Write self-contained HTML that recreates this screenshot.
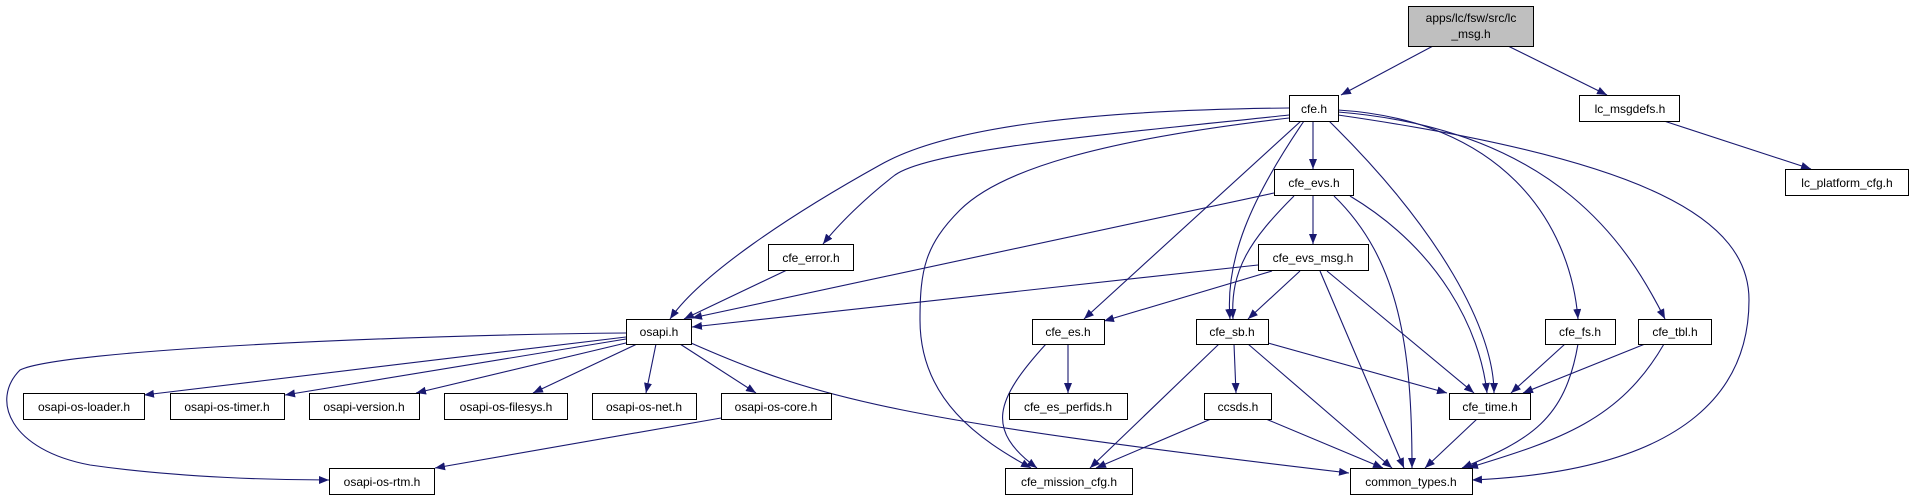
<!DOCTYPE html>
<html><head><meta charset="utf-8"><style>
html,body{margin:0;padding:0;background:#fff;}
svg{display:block;}
text{font-family:"Liberation Sans",sans-serif;font-size:12px;fill:#000;}
</style></head><body>
<svg width="1914" height="500" viewBox="0 0 1914 500" xmlns="http://www.w3.org/2000/svg">
<defs>
<marker id="a" viewBox="0 0 10 8" refX="10" refY="4" markerWidth="10" markerHeight="8" markerUnits="userSpaceOnUse" orient="auto">
<path d="M0,0 L10,4 L0,8 z" fill="#191970"/>
</marker>
</defs>
<g fill="none" stroke="#191970" stroke-width="1.1" marker-end="url(#a)">
<path d="M1433,46 L1341,95"/>
<path d="M1508,46 L1607,95"/>
<path d="M1664,121 L1811,169"/>
<path d="M1313,121 L1313,169"/>
<path d="M1289,115 C1100,135 930,150 895,175 C865,198 838,225 823,244"/>
<path d="M1289,108 C1100,110 950,125 880,165 C790,215 700,275 670,319"/>
<path d="M1289,118 C1100,140 1000,170 960,210 C925,245 920,270 920,320 C920,400 980,440 1031,468"/>
<path d="M1301,121 L1084,319"/>
<path d="M1304,121 C1250,200 1225,260 1230,319"/>
<path d="M1329,121 C1440,230 1494,330 1494,393"/>
<path d="M1338,110 C1500,120 1570,220 1578,319"/>
<path d="M1338,112 C1560,130 1630,250 1665,319"/>
<path d="M1338,115 C1650,160 1749,220 1749,300 C1749,380 1700,470 1472,480"/>
<path d="M1274,193 L692,318"/>
<path d="M1258,265 L692,327"/>
<path d="M787,270 L684,319"/>
<path d="M1313,195 L1313,244"/>
<path d="M1294,196 C1250,240 1230,270 1233,319"/>
<path d="M1334,196 C1400,260 1412,350 1412,468"/>
<path d="M1350,196 C1440,250 1480,330 1487,393"/>
<path d="M1272,271 L1104,321"/>
<path d="M1300,271 L1248,319"/>
<path d="M1320,271 L1404,468"/>
<path d="M1327,271 L1474,393"/>
<path d="M1068,344 L1068,393"/>
<path d="M1046,344 C995,400 985,430 1037,468"/>
<path d="M1234,344 L1236,393"/>
<path d="M1219,344 L1090,468"/>
<path d="M1248,344 L1392,468"/>
<path d="M1268,343 L1447,393"/>
<path d="M1565,344 L1511,393"/>
<path d="M1578,344 C1565,420 1530,440 1462,468"/>
<path d="M1645,344 L1523,393"/>
<path d="M1664,344 C1620,420 1560,440 1468,468"/>
<path d="M1211,419 L1096,468"/>
<path d="M1266,419 L1383,468"/>
<path d="M1477,419 L1425,468"/>
<path d="M626,337 L144,395"/>
<path d="M626,339 L285,395"/>
<path d="M630,342 L416,393"/>
<path d="M637,344 L533,393"/>
<path d="M656,344 L646,393"/>
<path d="M680,344 L756,393"/>
<path d="M691,343 C820,400 900,420 1349,473"/>
<path d="M626,333 C400,335 60,350 20,370 C-10,400 10,450 90,465 C180,478 280,480 329,480"/>
<path d="M721,418 L435,468"/>
</g>
<g stroke="#000" stroke-width="1">
<rect x="1408.5" y="6.5" width="125" height="40" fill="#bfbfbf"/>
<rect x="1289.5" y="95.5" width="49" height="26" fill="#fff"/>
<rect x="1579.5" y="95.5" width="100" height="26" fill="#fff"/>
<rect x="1785.5" y="169.5" width="123" height="26" fill="#fff"/>
<rect x="1274.5" y="169.5" width="79" height="26" fill="#fff"/>
<rect x="768.5" y="244.5" width="85" height="26" fill="#fff"/>
<rect x="1258.5" y="244.5" width="110" height="26" fill="#fff"/>
<rect x="626.5" y="319.5" width="65" height="25" fill="#fff"/>
<rect x="1032.5" y="319.5" width="72" height="25" fill="#fff"/>
<rect x="1196.5" y="319.5" width="72" height="25" fill="#fff"/>
<rect x="1545.5" y="319.5" width="70" height="25" fill="#fff"/>
<rect x="1638.5" y="319.5" width="73" height="25" fill="#fff"/>
<rect x="23.5" y="393.5" width="121" height="26" fill="#fff"/>
<rect x="170.5" y="393.5" width="114" height="26" fill="#fff"/>
<rect x="309.5" y="393.5" width="110" height="26" fill="#fff"/>
<rect x="444.5" y="393.5" width="123" height="26" fill="#fff"/>
<rect x="592.5" y="393.5" width="104" height="26" fill="#fff"/>
<rect x="721.5" y="393.5" width="110" height="26" fill="#fff"/>
<rect x="1009.5" y="393.5" width="118" height="26" fill="#fff"/>
<rect x="1204.5" y="393.5" width="67" height="26" fill="#fff"/>
<rect x="1449.5" y="393.5" width="81" height="26" fill="#fff"/>
<rect x="329.5" y="468.5" width="105" height="26" fill="#fff"/>
<rect x="1005.5" y="468.5" width="127" height="26" fill="#fff"/>
<rect x="1350.5" y="468.5" width="122" height="26" fill="#fff"/>
</g>
<g text-anchor="middle">
<text x="1471" y="22">apps/lc/fsw/src/lc</text>
<text x="1471" y="38">_msg.h</text>
<text x="1314" y="113">cfe.h</text>
<text x="1630" y="113">lc_msgdefs.h</text>
<text x="1847" y="187">lc_platform_cfg.h</text>
<text x="1314" y="187">cfe_evs.h</text>
<text x="811" y="262">cfe_error.h</text>
<text x="1313" y="262">cfe_evs_msg.h</text>
<text x="659" y="336">osapi.h</text>
<text x="1068" y="336">cfe_es.h</text>
<text x="1232" y="336">cfe_sb.h</text>
<text x="1580" y="336">cfe_fs.h</text>
<text x="1675" y="336">cfe_tbl.h</text>
<text x="84" y="411">osapi-os-loader.h</text>
<text x="227" y="411">osapi-os-timer.h</text>
<text x="364" y="411">osapi-version.h</text>
<text x="506" y="411">osapi-os-filesys.h</text>
<text x="644" y="411">osapi-os-net.h</text>
<text x="776" y="411">osapi-os-core.h</text>
<text x="1068" y="411">cfe_es_perfids.h</text>
<text x="1238" y="411">ccsds.h</text>
<text x="1490" y="411">cfe_time.h</text>
<text x="382" y="486">osapi-os-rtm.h</text>
<text x="1069" y="486">cfe_mission_cfg.h</text>
<text x="1411" y="486">common_types.h</text>
</g>
</svg>
</body></html>
